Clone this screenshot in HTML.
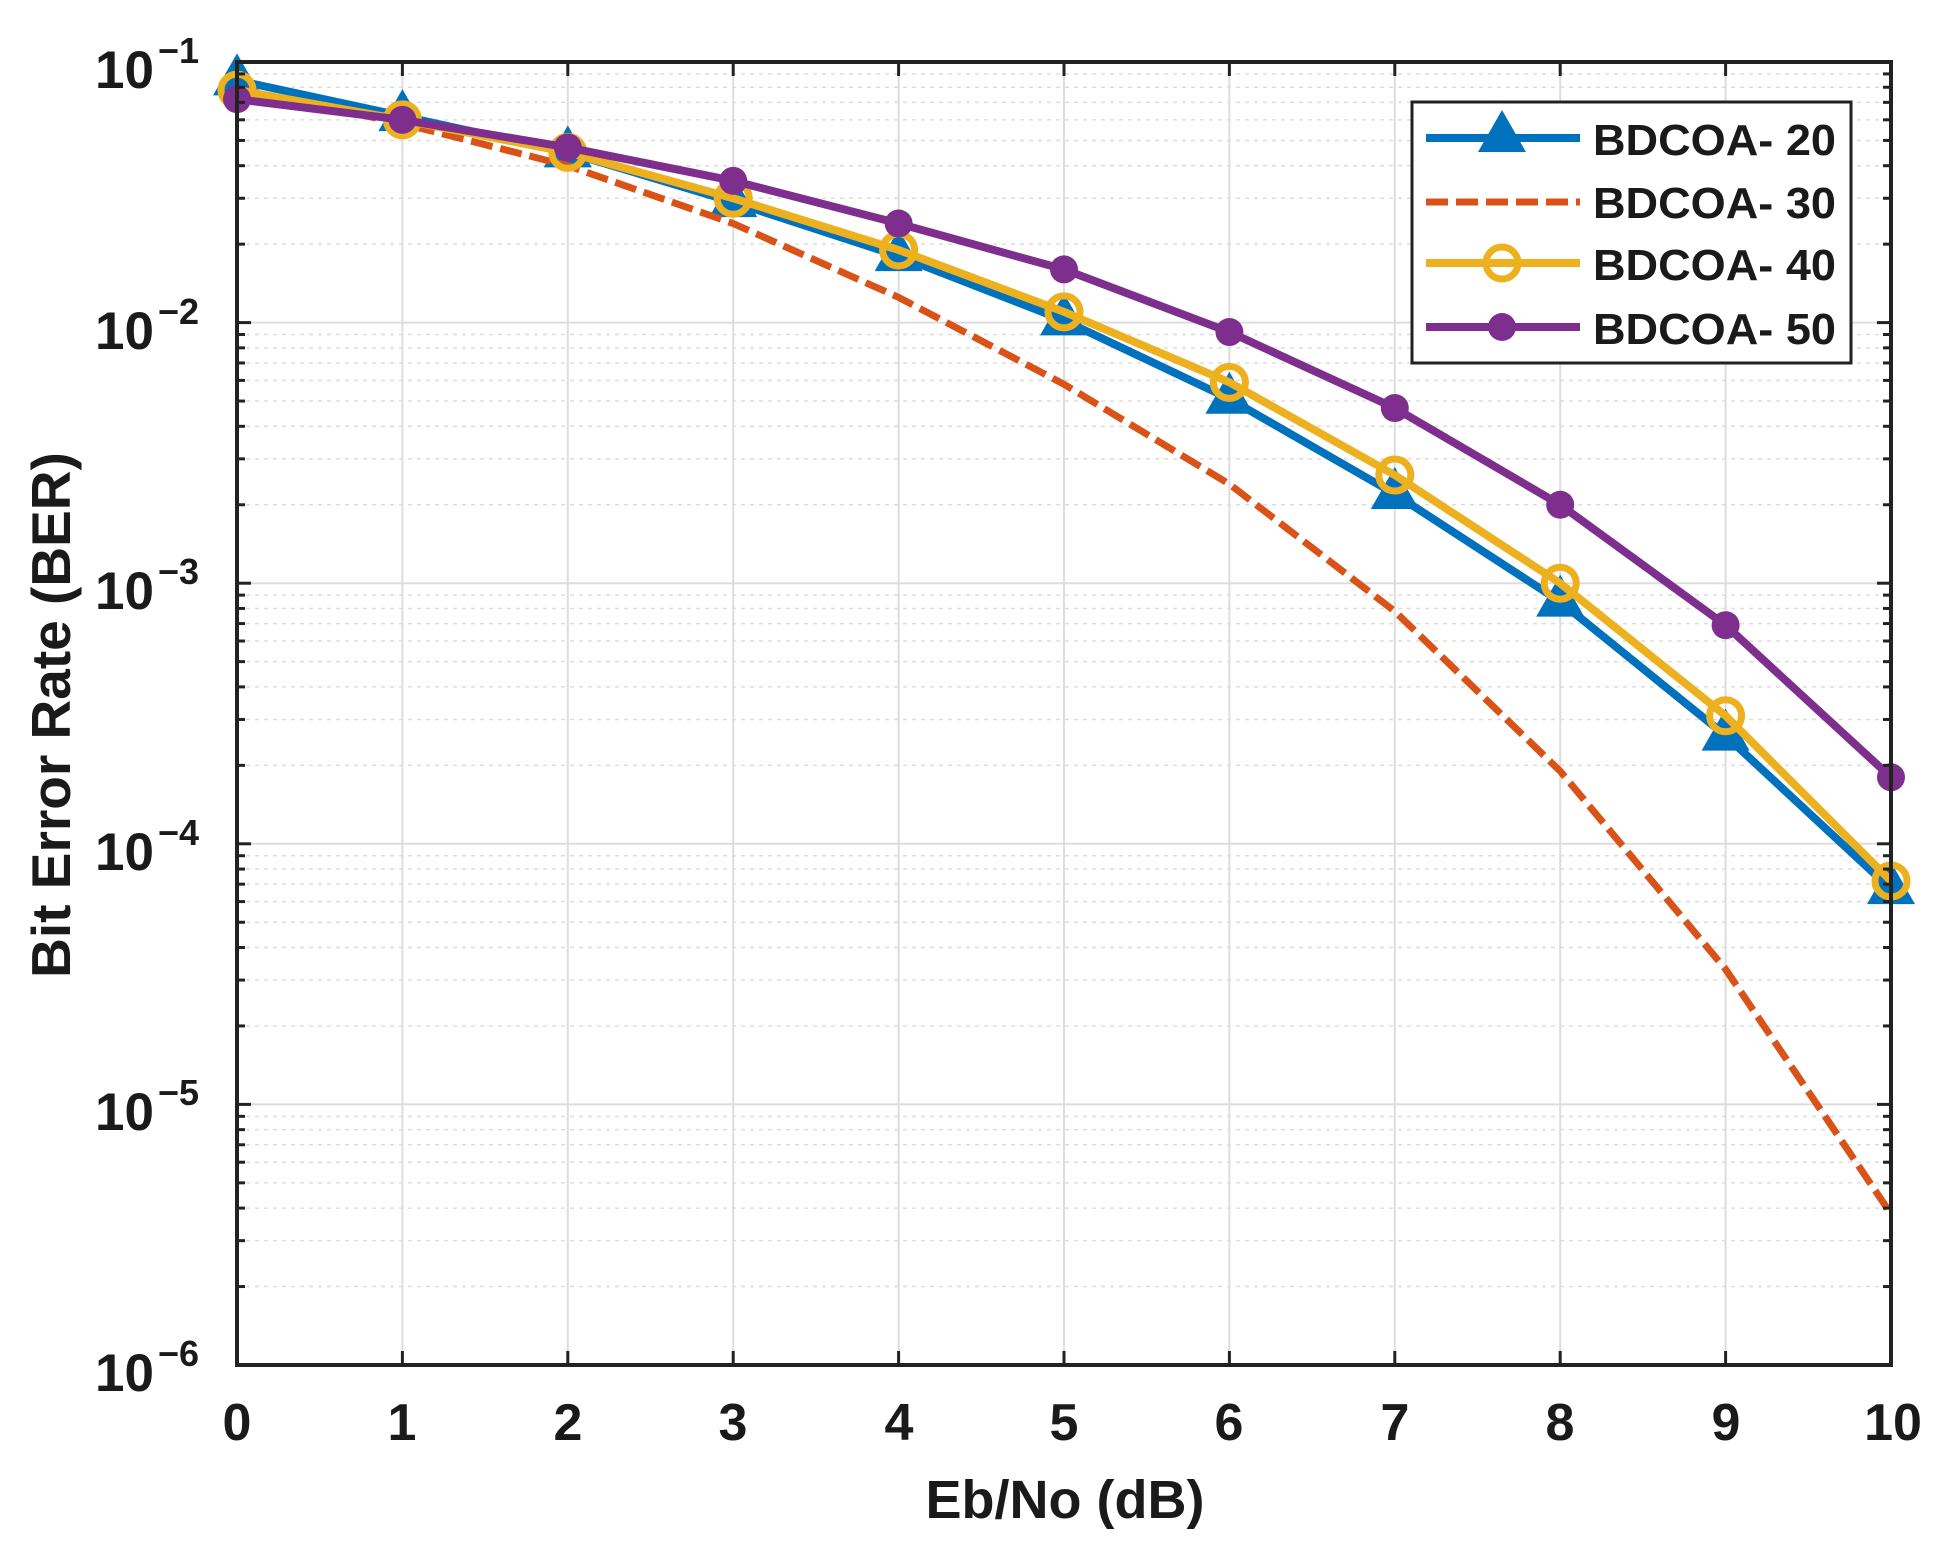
<!DOCTYPE html>
<html><head><meta charset="utf-8"><style>body{margin:0;background:#fff}svg{display:block}text{font-family:"Liberation Sans",Arial,sans-serif;font-weight:bold;fill:#1a1a1a}</style></head>
<body>
<svg id="s" width="1942" height="1547" viewBox="0 0 1942 1547" xmlns="http://www.w3.org/2000/svg">
<rect width="1942" height="1547" fill="#fff"/>
<g id="grid"></g>
<g id="series"></g>
<rect x="237" y="62" width="1654" height="1303" fill="none" stroke="#222" stroke-width="4"/>
<g id="ticks"></g>
<g font-size="52" text-anchor="middle">
<text x="237" y="1440">0</text><text x="402" y="1440">1</text><text x="568" y="1440">2</text><text x="733" y="1440">3</text><text x="899" y="1440">4</text><text x="1064" y="1440">5</text><text x="1229" y="1440">6</text><text x="1395" y="1440">7</text><text x="1560" y="1440">8</text><text x="1726" y="1440">9</text><text x="1893" y="1440">10</text>
</g>
<g font-size="53" text-anchor="end">
<text x="154" y="88">10</text><text x="154" y="349">10</text><text x="154" y="609">10</text><text x="154" y="870">10</text><text x="154" y="1130">10</text><text x="154" y="1391">10</text>
</g>
<g font-size="36">
<text x="158" y="63">−1</text><text x="158" y="324">−2</text><text x="158" y="584">−3</text><text x="158" y="845">−4</text><text x="158" y="1105">−5</text><text x="158" y="1366">−6</text>
</g>
<text x="1065" y="1518" font-size="54" text-anchor="middle">Eb/No (dB)</text>
<text transform="translate(70,715) rotate(-90)" font-size="55" text-anchor="middle">Bit Error Rate (BER)</text>
<rect x="1412" y="102" width="439" height="261" fill="#fff" stroke="#222" stroke-width="3"/>
<line x1="1426" y1="138" x2="1580" y2="138" stroke="#0072bd" stroke-width="8"/>
<polygon points="1502,110 1526,152 1478,152" fill="#0072bd"/>
<line x1="1426" y1="202" x2="1580" y2="202" stroke="#d95319" stroke-width="7" stroke-dasharray="22,8,22,8"/>
<line x1="1426" y1="263" x2="1580" y2="263" stroke="#edb120" stroke-width="8"/>
<circle cx="1502" cy="263" r="16" fill="none" stroke="#edb120" stroke-width="7"/>
<line x1="1426" y1="327" x2="1580" y2="327" stroke="#7e2f8e" stroke-width="8"/>
<circle cx="1502" cy="327" r="14" fill="#7e2f8e"/>
<g font-size="44"><text x="1593" y="155" textLength="243" lengthAdjust="spacingAndGlyphs">BDCOA- 20</text><text x="1593" y="218" textLength="243" lengthAdjust="spacingAndGlyphs">BDCOA- 30</text><text x="1593" y="280" textLength="243" lengthAdjust="spacingAndGlyphs">BDCOA- 40</text><text x="1593" y="344" textLength="243" lengthAdjust="spacingAndGlyphs">BDCOA- 50</text></g>
</svg>
<script>
const NS="http://www.w3.org/2000/svg";
const X=i=>237+i*165.4, Y=v=>62+(-1-Math.log10(v))*260.6;
function el(p,t,a){const e=document.createElementNS(NS,t);for(const k in a)e.setAttribute(k,a[k]);document.getElementById(p).appendChild(e);return e;}
for(let i=1;i<10;i++)el("grid","line",{x1:X(i),y1:62,x2:X(i),y2:1365,stroke:"#ddd","stroke-width":2});
for(let d=-6;d<-1;d++){for(let m=1;m<10;m++){const y=Y(m*Math.pow(10,d));if(m==1){if(d>-6)el("grid","line",{x1:237,y1:y,x2:1891,y2:y,stroke:"#ddd","stroke-width":2});}else{el("grid","line",{x1:237,y1:y,x2:1891,y2:y,stroke:"#ddd","stroke-width":1.5,"stroke-dasharray":"4,5"});}
 const L=m==1?14:8;el("ticks","line",{x1:237,y1:y,x2:237+L,y2:y,stroke:"#222","stroke-width":3});el("ticks","line",{x1:1891,y1:y,x2:1891-L,y2:y,stroke:"#222","stroke-width":3});}}
for(let i=1;i<10;i++){el("ticks","line",{x1:X(i),y1:1365,x2:X(i),y2:1351,stroke:"#222","stroke-width":3});el("ticks","line",{x1:X(i),y1:62,x2:X(i),y2:76,stroke:"#222","stroke-width":3});}
const S20=[0.085,0.062,0.045,0.029,0.018,0.0102,0.0051,0.0022,0.00085,0.00026,0.000067];
const S30=[0.079,0.058,0.04,0.024,0.0125,0.0058,0.0024,0.00078,0.00019,0.000033,0.0000038];
const S40=[0.078,0.06,0.045,0.03,0.019,0.011,0.0059,0.0026,0.001,0.00031,0.000072];
const S50=[0.072,0.06,0.047,0.035,0.024,0.016,0.0092,0.0047,0.002,0.00069,0.00018];
const pts=s=>s.map((v,i)=>X(i)+","+Y(v)).join(" ");
el("series","polyline",{points:pts(S20),fill:"none",stroke:"#0072bd","stroke-width":8,"stroke-linejoin":"round"});
S20.forEach((v,i)=>{const x=X(i),y=Y(v);el("series","polygon",{points:`${x},${y-27} ${x+24},${y+15} ${x-24},${y+15}`,fill:"#0072bd"});});
el("series","polyline",{points:pts(S30),fill:"none",stroke:"#d95319","stroke-width":7,"stroke-dasharray":"22,8"});
el("series","polyline",{points:pts(S40),fill:"none",stroke:"#edb120","stroke-width":8,"stroke-linejoin":"round"});
S40.forEach((v,i)=>el("series","circle",{cx:X(i),cy:Y(v),r:16,fill:"none",stroke:"#edb120","stroke-width":7}));
el("series","polyline",{points:pts(S50),fill:"none",stroke:"#7e2f8e","stroke-width":8,"stroke-linejoin":"round"});
S50.forEach((v,i)=>el("series","circle",{cx:X(i),cy:Y(v),r:14,fill:"#7e2f8e"}));
</script>
</body></html>
